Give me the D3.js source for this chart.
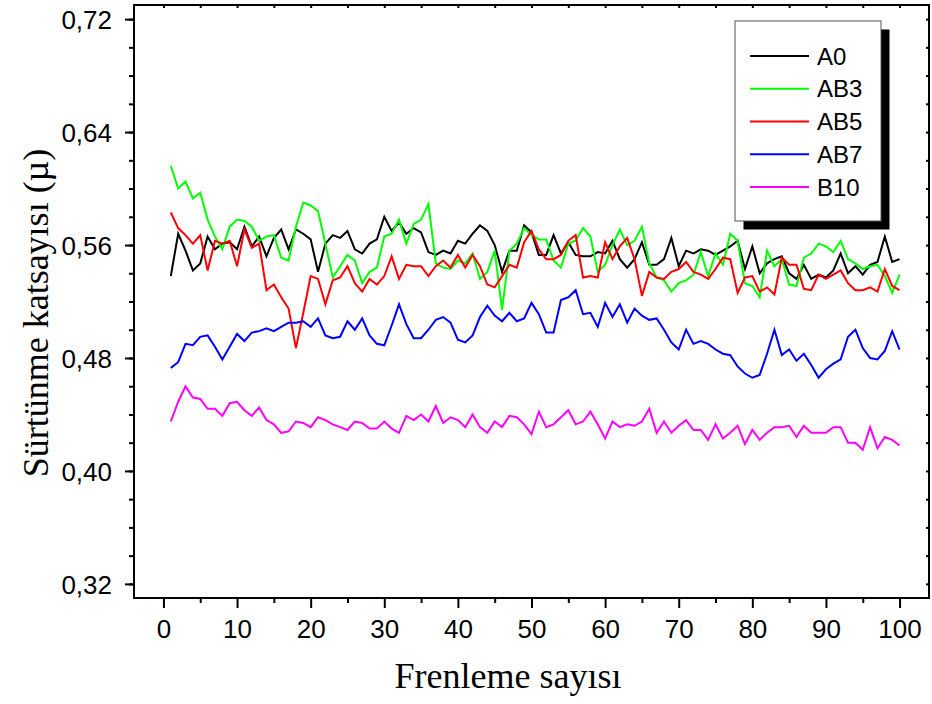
<!DOCTYPE html>
<html>
<head>
<meta charset="utf-8">
<script src="https://cdn.jsdelivr.net/npm/d3@7"></script>
<style>
  html, body { margin: 0; padding: 0; background: #fff; }
  svg { display: block; }
  .tick-label { font-family: "Liberation Sans", Arial, sans-serif; font-size: 26px; fill: #000; }
  .title { font-family: "Liberation Serif", "Times New Roman", serif; font-size: 36px; fill: #000; }
  .legend-label { font-family: "Liberation Sans", Arial, sans-serif; font-size: 24px; fill: #000; }
</style>
</head>
<body>
<script>
// Friction coefficient over 100 braking cycles for five pad compositions
const cycles = d3.range(1, 101);

const seriesNames = ["A0", "AB3", "AB5", "AB7", "B10"];
const seriesColors = ["#000000", "#00ff00", "#ff0000", "#0000ff", "#ff00ff"];

const A0 = [
  0.538, 0.568, 0.556, 0.542, 0.547, 0.566, 0.557, 0.561, 0.562, 0.557,
  0.573, 0.559, 0.566, 0.552, 0.565, 0.571, 0.557, 0.571, 0.568, 0.564,
  0.541, 0.561, 0.567, 0.565, 0.570, 0.557, 0.554, 0.561, 0.564, 0.580,
  0.570, 0.576, 0.568, 0.572, 0.569, 0.555, 0.553, 0.556, 0.554, 0.563,
  0.561, 0.568, 0.574, 0.570, 0.560, 0.541, 0.556, 0.556, 0.574, 0.569,
  0.553, 0.553, 0.567, 0.554, 0.562, 0.553, 0.552, 0.552, 0.555, 0.554,
  0.563, 0.550, 0.544, 0.550, 0.562, 0.546, 0.546, 0.550, 0.565, 0.545,
  0.556, 0.554, 0.557, 0.556, 0.553, 0.556, 0.559, 0.563, 0.543, 0.559,
  0.540, 0.547, 0.550, 0.552, 0.540, 0.536, 0.546, 0.536, 0.539, 0.537,
  0.542, 0.554, 0.540, 0.545, 0.539, 0.546, 0.548, 0.566, 0.548, 0.550
];

const AB3 = [
  0.616, 0.600, 0.605, 0.593, 0.597, 0.578, 0.566, 0.557, 0.573, 0.578,
  0.577, 0.573, 0.563, 0.566, 0.567, 0.551, 0.549, 0.573, 0.590, 0.588,
  0.584, 0.561, 0.537, 0.545, 0.553, 0.549, 0.533, 0.541, 0.544, 0.566,
  0.568, 0.578, 0.561, 0.575, 0.578, 0.589, 0.547, 0.544, 0.543, 0.549,
  0.547, 0.554, 0.536, 0.541, 0.556, 0.514, 0.556, 0.561, 0.572, 0.567,
  0.564, 0.564, 0.549, 0.544, 0.561, 0.563, 0.572, 0.566, 0.541, 0.546,
  0.560, 0.571, 0.560, 0.563, 0.573, 0.547, 0.537, 0.535, 0.527, 0.533,
  0.535, 0.539, 0.555, 0.538, 0.554, 0.546, 0.568, 0.563, 0.533, 0.531,
  0.523, 0.556, 0.545, 0.550, 0.532, 0.531, 0.551, 0.554, 0.561, 0.559,
  0.555, 0.563, 0.550, 0.547, 0.543, 0.545, 0.546, 0.538, 0.526, 0.539
];

const AB5 = [
  0.583, 0.572, 0.567, 0.561, 0.567, 0.542, 0.563, 0.561, 0.563, 0.545,
  0.571, 0.558, 0.561, 0.528, 0.532, 0.523, 0.515, 0.487, 0.512, 0.538,
  0.536, 0.518, 0.535, 0.537, 0.545, 0.533, 0.527, 0.536, 0.532, 0.538,
  0.552, 0.536, 0.546, 0.545, 0.545, 0.538, 0.545, 0.549, 0.544, 0.553,
  0.544, 0.553, 0.545, 0.532, 0.530, 0.538, 0.546, 0.544, 0.562, 0.570,
  0.557, 0.550, 0.550, 0.553, 0.563, 0.567, 0.537, 0.538, 0.537, 0.562,
  0.550, 0.559, 0.565, 0.550, 0.524, 0.541, 0.537, 0.536, 0.541, 0.543,
  0.548, 0.541, 0.539, 0.536, 0.543, 0.551, 0.550, 0.526, 0.537, 0.538,
  0.527, 0.530, 0.525, 0.551, 0.546, 0.546, 0.529, 0.528, 0.539, 0.536,
  0.539, 0.542, 0.533, 0.528, 0.528, 0.530, 0.527, 0.543, 0.531, 0.528
];

const AB7 = [
  0.473, 0.477, 0.490, 0.489, 0.495, 0.496, 0.488, 0.479, 0.488, 0.497,
  0.492, 0.498, 0.499, 0.501, 0.499, 0.502, 0.505, 0.505, 0.506, 0.502,
  0.508, 0.496, 0.494, 0.495, 0.506, 0.500, 0.508, 0.496, 0.490, 0.489,
  0.503, 0.518, 0.504, 0.494, 0.494, 0.500, 0.507, 0.509, 0.505, 0.493,
  0.491, 0.496, 0.509, 0.517, 0.510, 0.506, 0.512, 0.506, 0.508, 0.519,
  0.511, 0.498, 0.498, 0.521, 0.523, 0.528, 0.511, 0.512, 0.502, 0.519,
  0.509, 0.518, 0.505, 0.515, 0.510, 0.507, 0.508, 0.500, 0.491, 0.486,
  0.500, 0.490, 0.492, 0.490, 0.486, 0.483, 0.482, 0.474, 0.469, 0.466,
  0.468, 0.483, 0.500, 0.482, 0.486, 0.478, 0.483, 0.475, 0.466, 0.472,
  0.476, 0.479, 0.495, 0.500, 0.487, 0.480, 0.479, 0.485, 0.499, 0.486
];

const B10 = [
  0.435, 0.449, 0.460, 0.452, 0.451, 0.444, 0.444, 0.439, 0.448, 0.449,
  0.443, 0.439, 0.445, 0.436, 0.433, 0.427, 0.428, 0.435, 0.434, 0.431,
  0.438, 0.436, 0.433, 0.431, 0.429, 0.435, 0.434, 0.430, 0.430, 0.435,
  0.430, 0.427, 0.439, 0.436, 0.440, 0.435, 0.446, 0.434, 0.438, 0.436,
  0.431, 0.440, 0.431, 0.427, 0.435, 0.431, 0.439, 0.438, 0.433, 0.426,
  0.442, 0.431, 0.433, 0.438, 0.443, 0.433, 0.435, 0.442, 0.433, 0.423,
  0.435, 0.431, 0.433, 0.432, 0.435, 0.444, 0.427, 0.435, 0.427, 0.432,
  0.436, 0.429, 0.429, 0.422, 0.433, 0.423, 0.427, 0.432, 0.419, 0.429,
  0.422, 0.427, 0.431, 0.431, 0.432, 0.424, 0.432, 0.427, 0.427, 0.427,
  0.431, 0.431, 0.420, 0.420, 0.415, 0.431, 0.416, 0.424, 0.422, 0.418
];

const seriesValues = [A0, AB3, AB5, AB7, B10];

const yTicks = [0.32, 0.40, 0.48, 0.56, 0.64, 0.72];
const yMinorTicks = d3.range(0.32, 0.7201, 0.02);
const xTicks = d3.range(0, 101, 10);
const xMinorTicks = d3.range(5, 100, 10);

const xTitle = "Frenleme sayısı";
const yTitle = "Sürtünme katsayısı (µ)";

// ---- layout ----
const W = 932, H = 704;
const plot = { left: 134, right: 929, top: 5, bottom: 598 };

const svg = d3.select("body").append("svg")
  .attr("width", W).attr("height", H);

const x = d3.scaleLinear().domain([-4, 104]).range([plot.left, plot.right]);
const y = d3.scaleLinear().domain([0.31, 0.73]).range([plot.bottom, plot.top]);

const fmtY = v => d3.format(".2f")(v).replace(".", ",");

// series lines
const line = d3.line()
  .x((d, i) => x(cycles[i]))
  .y(d => y(d));

const linesG = svg.append("g");
seriesValues.forEach((vals, k) => {
  linesG.append("path")
    .datum(vals)
    .attr("d", line)
    .attr("fill", "none")
    .attr("stroke", seriesColors[k])
    .attr("stroke-width", 2)
    .attr("stroke-linejoin", "miter");
});

// axes
function styleAxis(g) {
  g.select(".domain").remove();
  g.selectAll(".tick line").attr("stroke", "#000").attr("stroke-width", 2);
}

// left: major + minor, outward
svg.append("g")
  .attr("transform", `translate(${plot.left},0)`)
  .call(d3.axisLeft(y).tickValues(yMinorTicks).tickSize(5).tickFormat(""))
  .call(styleAxis);
const yAxisG = svg.append("g")
  .attr("transform", `translate(${plot.left},0)`)
  .call(d3.axisLeft(y).tickValues(yTicks).tickSize(9).tickPadding(13).tickFormat(fmtY))
  .call(styleAxis);
yAxisG.selectAll(".tick text")
  .attr("class", "tick-label")
  .attr("font-size", null).attr("font-family", null)
  .attr("dy", "0.36em");

// bottom: major + minor, outward
svg.append("g")
  .attr("transform", `translate(0,${plot.bottom})`)
  .call(d3.axisBottom(x).tickValues(xMinorTicks).tickSize(5).tickFormat(""))
  .call(styleAxis);
const xAxisG = svg.append("g")
  .attr("transform", `translate(0,${plot.bottom})`)
  .call(d3.axisBottom(x).tickValues(xTicks).tickSize(10).tickPadding(12).tickFormat(d3.format("d")))
  .call(styleAxis);
xAxisG.selectAll(".tick text")
  .attr("class", "tick-label")
  .attr("font-size", null).attr("font-family", null)
  .attr("dy", "0.71em");

// top & right: short inward mirror ticks
svg.append("g")
  .attr("transform", `translate(0,${plot.top})`)
  .call(d3.axisTop(x).tickValues(xTicks.concat(xMinorTicks)).tickSize(-3).tickFormat(""))
  .call(styleAxis);
svg.append("g")
  .attr("transform", `translate(${plot.right},0)`)
  .call(d3.axisRight(y).tickValues(yMinorTicks).tickSize(-3).tickFormat(""))
  .call(styleAxis);

// frame
svg.append("rect")
  .attr("x", plot.left).attr("y", plot.top)
  .attr("width", plot.right - plot.left).attr("height", plot.bottom - plot.top)
  .attr("fill", "none").attr("stroke", "#000").attr("stroke-width", 2);

// axis titles
svg.append("text")
  .attr("class", "title")
  .attr("x", 508).attr("y", 688)
  .attr("text-anchor", "middle")
  .text(xTitle);

svg.append("text")
  .attr("class", "title")
  .attr("transform", "translate(48,313) rotate(-90)")
  .attr("text-anchor", "middle")
  .text(yTitle);

// legend with drop shadow
const lg = { x: 735, y: 21, w: 146, h: 200, shadow: 8.5 };
const legendG = svg.append("g");
legendG.append("rect")
  .attr("x", lg.x + lg.shadow).attr("y", lg.y + lg.shadow)
  .attr("width", lg.w).attr("height", lg.h)
  .attr("fill", "#000");
legendG.append("rect")
  .attr("x", lg.x).attr("y", lg.y)
  .attr("width", lg.w).attr("height", lg.h)
  .attr("fill", "#fff").attr("stroke", "#555").attr("stroke-width", 1);

const legendRow = d3.scaleLinear().domain([0, 4]).range([lg.y + 35, lg.y + 166]);
seriesNames.forEach((name, k) => {
  const yy = legendRow(k);
  legendG.append("line")
    .attr("x1", lg.x + 15).attr("x2", lg.x + 74)
    .attr("y1", yy).attr("y2", yy)
    .attr("stroke", seriesColors[k]).attr("stroke-width", 2);
  legendG.append("text")
    .attr("class", "legend-label")
    .attr("x", lg.x + 82).attr("y", yy)
    .attr("dy", "0.36em")
    .text(name);
});
</script>
</body>
</html>
